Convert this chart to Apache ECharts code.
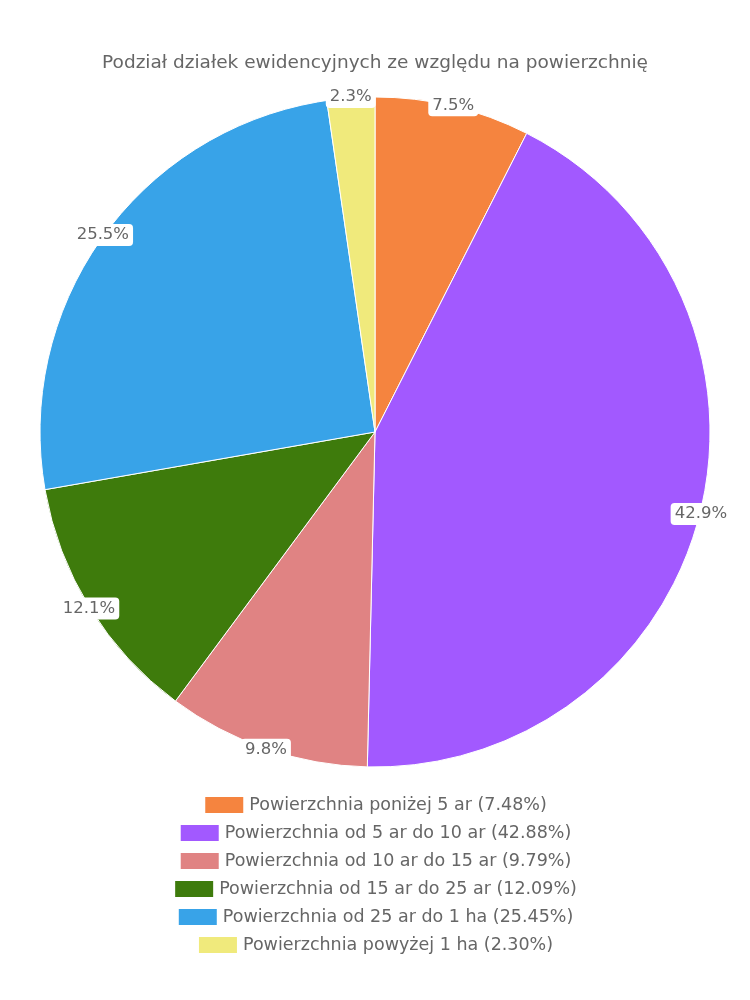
<!DOCTYPE html>
<html><head><meta charset="utf-8">
<script src="https://cdn.jsdelivr.net/npm/echarts@6/dist/echarts.min.js"></script>
<style>html,body{margin:0;padding:0;background:#fff}#c{width:750px;height:1000px}</style>
</head><body><div id="c"></div>
<script>
const titleText = 'Podział działek ewidencyjnych ze względu na powierzchnię';
const categories = [
  'Powierzchnia poniżej 5 ar',
  'Powierzchnia od 5 ar do 10 ar',
  'Powierzchnia od 10 ar do 15 ar',
  'Powierzchnia od 15 ar do 25 ar',
  'Powierzchnia od 25 ar do 1 ha',
  'Powierzchnia powyżej 1 ha'
];
const values = [7.48, 42.88, 9.79, 12.09, 25.45, 2.30];
const colors = ['#F5843F', '#A259FF', '#E08383', '#3E7B0C', '#38A3E8', '#F0EA7C'];

const FONT = 'DejaVu Sans';
const fmt1 = v => (Math.round(v * 10 + 1e-6) / 10).toFixed(1);
const data = categories.map((n, i) => ({name: n, value: values[i], itemStyle: {color: colors[i]}}));
const chart = echarts.init(document.getElementById('c'), null, {renderer: 'canvas'});
const legends = categories.map((n, i) => ({
  data: [n], left: 'center', top: 790 + i * 28, orient: 'horizontal',
  itemWidth: 40, itemHeight: 18, itemGap: 10, icon: 'rect',
  textStyle: {color: '#666', fontSize: 17.5, fontFamily: FONT},
  formatter: name => name + ' (' + values[categories.indexOf(name)].toFixed(2) + '%)',
  selectedMode: false
}));
chart.setOption({
  animation: false,
  textStyle: {fontFamily: FONT},
  title: {text: titleText, left: 'center', top: 49,
    textStyle: {color: '#666', fontSize: 18.5, fontWeight: 'normal', fontFamily: FONT}},
  legend: legends,
  series: [
    {type: 'pie', center: [375, 432], radius: [0, 335], startAngle: 90, clockwise: true,
     data: data, label: {show: false}, labelLine: {show: false},
     itemStyle: {borderColor: '#fff', borderWidth: 1}, silent: true},
    {type: 'pie', center: [375, 432], radius: [330, 336], startAngle: 90, clockwise: true,
     data: data.map(d => ({name: d.name, value: d.value})), silent: true,
     itemStyle: {color: 'rgba(0,0,0,0)'},
     labelLine: {show: false},
     label: {show: true, position: 'inside', formatter: p => fmt1(p.value) + '%',
       color: '#666', fontSize: 16.5, fontFamily: FONT, backgroundColor: '#fff',
       borderRadius: 4, padding: [3, 4, 2, 4]}}
  ]
});
</script></body></html>
